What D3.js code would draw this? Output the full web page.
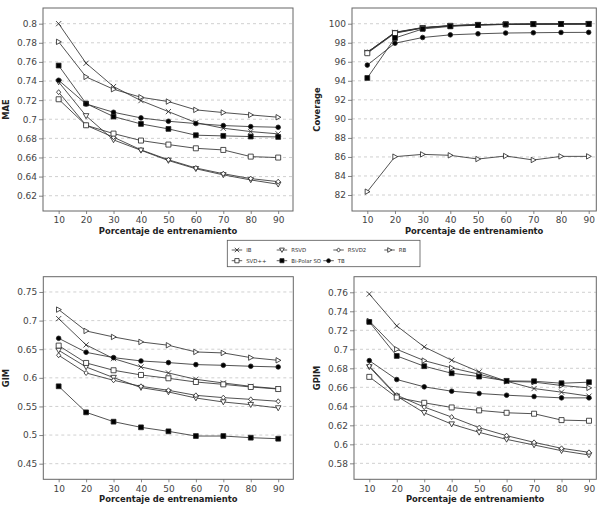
<!DOCTYPE html>
<html><head><meta charset="utf-8">
<script src="https://cdn.jsdelivr.net/npm/d3@7"></script>
<style>body{margin:0;background:#fff}svg{display:block}</style>
</head><body>
<svg id="c" width="606" height="508"></svg>
<script>
// ---------- DATA ----------
const xValues = [10, 20, 30, 40, 50, 60, 70, 80, 90];
const seriesNames = ["IB", "RSVD", "RSVD2", "RB", "SVD++", "Bi-Polar SO", "TB"];

const maeIB      = [0.800, 0.7586, 0.7342, 0.7195, 0.708, 0.6965, 0.6906, 0.6871, 0.6847];
const maeRSVD    = [0.739, 0.7035, 0.6784, 0.6675, 0.6568, 0.6482, 0.6418, 0.6365, 0.632];
const maeRSVD2   = [0.7283, 0.6937, 0.6812, 0.668, 0.6576, 0.649, 0.643, 0.6379, 0.6347];
const maeRB      = [0.781, 0.7443, 0.7314, 0.723, 0.7185, 0.7098, 0.707, 0.7045, 0.7021];
const maeSVDpp   = [0.7209, 0.6937, 0.685, 0.6777, 0.6735, 0.6696, 0.6679, 0.6609, 0.6599];
const maeBiPolar = [0.7562, 0.7164, 0.7028, 0.6951, 0.6899, 0.6833, 0.6826, 0.6819, 0.6815];
const maeTB      = [0.7408, 0.716, 0.7073, 0.7014, 0.6979, 0.6955, 0.6934, 0.6923, 0.6916];

const covIB      = [97.0, 99.1, 99.6, 99.8, 99.9, 99.95, 99.97, 99.98, 99.98];
const covRSVD    = [96.95, 99.05, 99.55, 99.78, 99.88, 99.93, 99.96, 99.97, 99.98];
const covRSVD2   = [97.0, 99.08, 99.58, 99.8, 99.9, 99.94, 99.96, 99.97, 99.98];
const covRB      = [82.35, 86.03, 86.27, 86.17, 85.78, 86.1, 85.68, 86.06, 86.06];
const covSVDpp   = [96.9, 99.0, 99.55, 99.78, 99.88, 99.93, 99.96, 99.97, 99.98];
const covBiPolar = [94.3, 98.5, 99.45, 99.72, 99.85, 99.92, 99.95, 99.97, 99.97];
const covTB      = [95.65, 97.95, 98.55, 98.83, 98.94, 99.02, 99.05, 99.08, 99.09];

const gimIB      = [0.7035, 0.6575, 0.6336, 0.619, 0.6085, 0.5974, 0.591, 0.5851, 0.581];
const gimRSVD    = [0.6481, 0.619, 0.6004, 0.5829, 0.5753, 0.5647, 0.5578, 0.5531, 0.5473];
const gimRSVD2   = [0.6394, 0.6085, 0.5957, 0.5852, 0.5782, 0.5694, 0.5654, 0.5624, 0.559];
const gimRB      = [0.7192, 0.6819, 0.6714, 0.6627, 0.6569, 0.6452, 0.6435, 0.6353, 0.6306];
const gimSVDpp   = [0.6563, 0.626, 0.6132, 0.605, 0.5992, 0.5927, 0.5886, 0.584, 0.5804];
const gimBiPolar = [0.5852, 0.5397, 0.5234, 0.5135, 0.5065, 0.4983, 0.4983, 0.4954, 0.4936];
const gimTB      = [0.6691, 0.6446, 0.6353, 0.6295, 0.6266, 0.6231, 0.6219, 0.6202, 0.619];

const gpimIB      = [0.7582, 0.7246, 0.7025, 0.6885, 0.6762, 0.6664, 0.6587, 0.6549, 0.6507];
const gpimRSVD    = [0.6815, 0.6507, 0.6332, 0.6213, 0.6126, 0.6052, 0.5993, 0.5933, 0.5888];
const gpimRSVD2   = [0.6825, 0.6517, 0.6392, 0.6287, 0.6175, 0.6091, 0.6021, 0.5958, 0.5916];
const gpimRB      = [0.7298, 0.7, 0.6881, 0.6804, 0.6738, 0.6662, 0.6655, 0.6619, 0.6594];
const gpimSVDpp   = [0.671, 0.6493, 0.6437, 0.6388, 0.6357, 0.6332, 0.6322, 0.6255, 0.6248];
const gpimBiPolar = [0.7288, 0.693, 0.6822, 0.6748, 0.6713, 0.6668, 0.6664, 0.6643, 0.6654];
const gpimTB      = [0.6881, 0.6682, 0.6605, 0.6559, 0.6535, 0.6517, 0.6503, 0.6489, 0.6489];

const maeTicks = [0.62, 0.64, 0.66, 0.68, 0.70, 0.72, 0.74, 0.76, 0.78, 0.80];
const maeTickLabels = ["0.62", "0.64", "0.66", "0.68", "0.7", "0.72", "0.74", "0.76", "0.78", "0.8"];
const covTicks = [82, 84, 86, 88, 90, 92, 94, 96, 98, 100];
const covTickLabels = ["82", "84", "86", "88", "90", "92", "94", "96", "98", "100"];
const gimTicks = [0.45, 0.50, 0.55, 0.60, 0.65, 0.70, 0.75];
const gimTickLabels = ["0.45", "0.5", "0.55", "0.6", "0.65", "0.7", "0.75"];
const gpimTicks = [0.58, 0.60, 0.62, 0.64, 0.66, 0.68, 0.70, 0.72, 0.74, 0.76];
const gpimTickLabels = ["0.58", "0.6", "0.62", "0.64", "0.66", "0.68", "0.7", "0.72", "0.74", "0.76"];
const xTitle = "Porcentaje de entrenamiento";

// ---------- LAYOUT / STYLE ----------
const markerShapes = ["times", "tridown", "diamond", "triright", "square", "squareFilled", "circleFilled"];
const FONT = "'DejaVu Sans', sans-serif";
const LINE = "#333";

function markerPath(shape, r) {
  switch (shape) {
    case "times": return `M${-r},${-r}L${r},${r}M${-r},${r}L${r},${-r}`;
    case "tridown": return `M${-r},${-r*0.8}L${r},${-r*0.8}L0,${r*1.0}Z`;
    case "triright": return `M${-r*0.8},${-r}L${r},0L${-r*0.8},${r}Z`;
    case "diamond": return `M0,${-r}L${r*0.85},0L0,${r}L${-r*0.85},0Z`;
    case "square":
    case "squareFilled": return `M${-r},${-r}H${r}V${r}H${-r}Z`;
    case "circleFilled": return d3.arc()({innerRadius:0, outerRadius:r, startAngle:0, endAngle:2*Math.PI});
  }
}
const markerR = {times:2.6, tridown:2.8, diamond:2.5, triright:2.7, square:2.5, squareFilled:2.4, circleFilled:2.3};
function drawMarker(sel, shape, scale) {
  const r = markerR[shape] * (scale || 1);
  sel.append("path").attr("d", markerPath(shape, r))
    .attr("fill", shape === "squareFilled" || shape === "circleFilled" ? "#000" : (shape === "times" ? "none" : "#fff"))
    .attr("stroke", "#222").attr("stroke-width", 0.8);
}

const svg = d3.select("#c");

const panels = [
  { title: "MAE", data: [maeIB, maeRSVD, maeRSVD2, maeRB, maeSVDpp, maeBiPolar, maeTB],
    ticks: maeTicks, labels: maeTickLabels, box: [43, 8, 293, 211], xDom: [4.3, 95.4], yDom: [0.604, 0.8164], titleX: 9 },
  { title: "Coverage", data: [covIB, covRSVD, covRSVD2, covRB, covSVDpp, covBiPolar, covTB],
    ticks: covTicks, labels: covTickLabels, box: [352, 8, 596.3, 211], xDom: [4.47, 92.75], yDom: [80.32, 101.65], titleX: 319.5 },
  { title: "GIM", data: [gimIB, gimRSVD, gimRSVD2, gimRB, gimSVDpp, gimBiPolar, gimTB],
    ticks: gimTicks, labels: gimTickLabels, box: [43.3, 276.7, 293.3, 479.3], xDom: [4.4, 95.5], yDom: [0.4227, 0.7767], titleX: 9 },
  { title: "GPIM", data: [gpimIB, gpimRSVD, gpimRSVD2, gpimRB, gpimSVDpp, gpimBiPolar, gpimTB],
    ticks: gpimTicks, labels: gpimTickLabels, box: [354, 276.7, 596.3, 479.3], xDom: [4.43, 92.66], yDom: [0.5632, 0.7764], titleX: 320 }
];

panels.forEach(p => {
  const [x0, y0, x1, y1] = p.box;
  const x = d3.scaleLinear().domain(p.xDom).range([x0, x1]);
  const y = d3.scaleLinear().domain(p.yDom).range([y1, y0]);
  const g = svg.append("g");

  g.append("rect").attr("x", x0).attr("y", y0).attr("width", x1 - x0).attr("height", y1 - y0).attr("fill", "#fff");

  g.append("g").selectAll("line").data(p.ticks).join("line")
    .attr("x1", x0).attr("x2", x1).attr("y1", d => y(d)).attr("y2", d => y(d))
    .attr("stroke", "#c4c4c4").attr("stroke-width", 0.8).attr("stroke-dasharray", "3,3");

  const ya = g.append("g").attr("transform", `translate(${x0},0)`)
    .call(d3.axisLeft(y).tickValues(p.ticks).tickFormat((d, i) => p.labels[i]).tickSize(4).tickPadding(2));
  const xa = g.append("g").attr("transform", `translate(0,${y1})`)
    .call(d3.axisBottom(x).tickValues(xValues).tickFormat(d => d).tickSize(3).tickPadding(3));
  [ya, xa].forEach(a => {
    a.select(".domain").remove();
    a.selectAll("line").attr("stroke", "#666").attr("stroke-width", 0.8);
    a.selectAll("text").attr("fill", "#444").style("font-family", FONT).style("font-size", "9px");
  });

  g.append("rect").attr("x", x0).attr("y", y0).attr("width", x1 - x0).attr("height", y1 - y0)
    .attr("fill", "none").attr("stroke", "#666").attr("stroke-width", 1);

  const line = d3.line().x((d, i) => x(xValues[i])).y(d => y(d));
  p.data.forEach((vals, si) => {
    g.append("path").attr("d", line(vals)).attr("fill", "none").attr("stroke", LINE).attr("stroke-width", 0.85);
  });
  p.data.forEach((vals, si) => {
    vals.forEach((v, i) => {
      const m = g.append("g").attr("transform", `translate(${x(xValues[i])},${y(v)})`);
      drawMarker(m, markerShapes[si]);
    });
  });

  g.append("text").attr("x", (x0 + x1) / 2).attr("y", y1 + 23)
    .attr("text-anchor", "middle").style("font-family", FONT).style("font-size", "8.4px").style("font-weight", "bold")
    .attr("fill", "#222").text(xTitle);
  g.append("text").attr("transform", `translate(${p.titleX},${(y0 + y1) / 2}) rotate(-90)`)
    .attr("text-anchor", "middle").style("font-family", FONT).style("font-size", "8.4px").style("font-weight", "bold")
    .attr("fill", "#222").text(p.title);
});

// ---------- LEGEND ----------
const lg = svg.append("g");
lg.append("rect").attr("x", 227.3).attr("y", 240.3).attr("width", 192.7).attr("height", 26.4)
  .attr("fill", "#fff").attr("stroke", "#555").attr("stroke-width", 0.8);
const legendPos = [[231.7, 250], [276.7, 250], [333.3, 250], [384.3, 250], [231.7, 260.7], [276.7, 260.7], [323.3, 260.7]];
seriesNames.forEach((name, i) => {
  const [lx, ly] = legendPos[i];
  const it = lg.append("g").attr("transform", `translate(${lx},${ly})`);
  it.append("line").attr("x1", 0).attr("x2", 10.5).attr("y1", 0).attr("y2", 0).attr("stroke", LINE).attr("stroke-width", 0.8);
  drawMarker(it.append("g").attr("transform", "translate(5.25,0)"), markerShapes[i], 0.85);
  it.append("text").attr("x", 14.5).attr("y", 2).style("font-family", FONT).style("font-size", "5.4px")
    .attr("fill", "#333").text(name);
});
</script>
</body></html>
